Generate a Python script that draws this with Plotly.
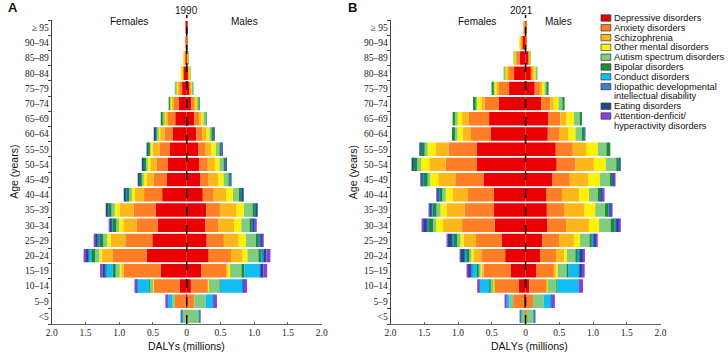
import plotly.graph_objects as go

ages = ["<5", "5–9", "10–14", "15–19", "20–24", "25–29", "30–34", "35–39", "40–44", "45–49",
        "50–54", "55–59", "60–64", "65–69", "70–74", "75–79", "80–84", "85–89", "90–94", "≥ 95"]

series_names = ["Depressive disorders", "Anxiety disorders", "Schizophrenia", "Other mental disorders",
                "Autism spectrum disorders", "Bipolar disorders", "Conduct disorders",
                "Idiopathic developmental intellectual disability", "Eating disorders",
                "Attention-denficit/hyperactivity disorders"]
colors = ["#EA0000", "#FF7F27", "#FFB81C", "#FFF200", "#80CC80", "#1F8A35",
          "#12BDF2", "#3A7EC8", "#1B4B8A", "#8A3EDB"]

# ---- 1990 Females (DALYs, millions), ages <5 ... >=95
dep_f90 = [0, 0.01, 0.106, 0.384, 0.594, 0.51, 0.428, 0.462, 0.364, 0.292, 0.278, 0.248, 0.204, 0.17, 0.116, 0.068, 0.048, 0.024, 0.01, 0.004]
anx_f90 = [0.006, 0.166, 0.39, 0.55, 0.5, 0.4, 0.312, 0.322, 0.268, 0.194, 0.164, 0.156, 0.122, 0.108, 0.084, 0.048, 0.016, 0.006, 0.002, 0]
sch_f90 = [0, 0, 0, 0.04, 0.166, 0.218, 0.2, 0.208, 0.136, 0.108, 0.098, 0.102, 0.068, 0.044, 0.028, 0.02, 0.008, 0.002, 0, 0]
oth_f90 = [0, 0, 0.004, 0.018, 0.034, 0.05, 0.062, 0.074, 0.044, 0.054, 0.04, 0.03, 0.03, 0.018, 0.016, 0.014, 0.006, 0.002, 0, 0]
aut_f90 = [0.066, 0.042, 0.054, 0.06, 0.064, 0.058, 0.04, 0.048, 0.04, 0.028, 0.024, 0.018, 0.024, 0.02, 0.01, 0.02, 0, 0, 0, 0]
bip_f90 = [0, 0, 0.004, 0.042, 0.062, 0.058, 0.058, 0.05, 0.048, 0.024, 0.034, 0.026, 0.02, 0.014, 0.004, 0, 0, 0, 0, 0]
con_f90 = [0, 0.064, 0.182, 0.104, 0.02, 0.008, 0.004, 0.002, 0.002, 0, 0, 0, 0, 0, 0, 0, 0, 0, 0, 0]
idi_f90 = [0.02, 0.01, 0.004, 0.014, 0.02, 0.016, 0.01, 0.008, 0.008, 0.006, 0.006, 0.004, 0.004, 0, 0, 0, 0, 0, 0, 0]
eat_f90 = [0, 0, 0.004, 0.038, 0.044, 0.04, 0.03, 0.024, 0.02, 0.01, 0.008, 0.004, 0.004, 0, 0, 0, 0, 0, 0, 0]
adh_f90 = [0, 0.024, 0.026, 0.034, 0.024, 0.014, 0.004, 0, 0, 0, 0, 0, 0, 0, 0, 0, 0, 0, 0, 0]

# ---- 1990 Males
dep_m90 = [0, 0.006, 0.062, 0.218, 0.326, 0.296, 0.272, 0.288, 0.238, 0.204, 0.184, 0.17, 0.142, 0.112, 0.068, 0.034, 0.024, 0.01, 0.008, 0.004]
anx_m90 = [0.008, 0.106, 0.264, 0.366, 0.33, 0.254, 0.2, 0.204, 0.162, 0.122, 0.128, 0.112, 0.086, 0.072, 0.048, 0.03, 0.014, 0.008, 0.002, 0]
sch_m90 = [0, 0, 0, 0.034, 0.172, 0.22, 0.234, 0.248, 0.184, 0.146, 0.106, 0.082, 0.068, 0.03, 0.026, 0.01, 0.006, 0.002, 0, 0]
oth_m90 = [0, 0, 0.002, 0.024, 0.072, 0.106, 0.102, 0.106, 0.102, 0.074, 0.068, 0.068, 0.04, 0.034, 0.018, 0.014, 0.006, 0.002, 0, 0]
aut_m90 = [0.172, 0.166, 0.164, 0.186, 0.162, 0.15, 0.122, 0.128, 0.088, 0.082, 0.064, 0.064, 0.048, 0.034, 0.024, 0.014, 0.004, 0.002, 0, 0]
bip_m90 = [0, 0, 0.004, 0.028, 0.048, 0.044, 0.038, 0.044, 0.038, 0.02, 0.024, 0.02, 0.02, 0.014, 0.006, 0, 0, 0, 0, 0]
con_m90 = [0, 0.12, 0.34, 0.234, 0.012, 0.006, 0.004, 0.002, 0, 0, 0, 0, 0, 0, 0, 0, 0, 0, 0, 0]
idi_m90 = [0.014, 0.006, 0.004, 0.02, 0.016, 0.014, 0.01, 0.008, 0.008, 0.008, 0.008, 0.006, 0.006, 0, 0, 0, 0, 0, 0, 0]
eat_m90 = [0, 0, 0.004, 0.024, 0.044, 0.03, 0.026, 0.018, 0.012, 0, 0.006, 0, 0, 0, 0, 0, 0, 0, 0, 0]
adh_m90 = [0, 0.044, 0.05, 0.058, 0.058, 0.022, 0.018, 0, 0, 0, 0, 0.004, 0.004, 0, 0, 0, 0, 0, 0, 0]

# ---- 2021 Females
dep_f21 = [0, 0.024, 0.098, 0.224, 0.302, 0.35, 0.458, 0.472, 0.472, 0.622, 0.726, 0.72, 0.52, 0.54, 0.394, 0.244, 0.17, 0.088, 0.048, 0.014]
anx_f21 = [0.004, 0.16, 0.374, 0.398, 0.354, 0.384, 0.482, 0.428, 0.38, 0.42, 0.456, 0.418, 0.288, 0.306, 0.21, 0.15, 0.092, 0.054, 0.02, 0.004]
sch_f21 = [0, 0, 0, 0.03, 0.118, 0.18, 0.282, 0.272, 0.228, 0.252, 0.244, 0.196, 0.122, 0.094, 0.052, 0.04, 0.026, 0.016, 0.006, 0.002]
oth_f21 = [0, 0, 0.004, 0.014, 0.028, 0.05, 0.102, 0.088, 0.102, 0.118, 0.122, 0.116, 0.078, 0.078, 0.06, 0.028, 0.014, 0.008, 0.004, 0]
aut_f21 = [0.06, 0.054, 0.054, 0.04, 0.034, 0.048, 0.048, 0.058, 0.05, 0.038, 0.058, 0.044, 0.038, 0.028, 0.038, 0.02, 0.01, 0.01, 0, 0]
bip_f21 = [0, 0, 0.004, 0.014, 0.05, 0.058, 0.074, 0.06, 0.048, 0.074, 0.058, 0.058, 0.044, 0.034, 0.024, 0.01, 0, 0, 0, 0]
con_f21 = [0, 0.044, 0.152, 0.074, 0.008, 0.006, 0.004, 0.002, 0.002, 0.002, 0, 0, 0, 0, 0, 0, 0, 0, 0, 0]
idi_f21 = [0.014, 0.006, 0.004, 0.016, 0.012, 0.014, 0.012, 0.01, 0.008, 0.008, 0.006, 0.004, 0, 0, 0, 0, 0, 0, 0, 0]
eat_f21 = [0, 0, 0, 0.046, 0.06, 0.068, 0.056, 0.036, 0.018, 0.016, 0.008, 0.004, 0, 0, 0, 0, 0, 0, 0, 0]
adh_f21 = [0, 0.018, 0.026, 0.01, 0.008, 0.006, 0.01, 0.01, 0.008, 0.004, 0, 0, 0, 0, 0, 0, 0, 0, 0, 0]

# ---- 2021 Males
dep_m21 = [0, 0.014, 0.054, 0.156, 0.218, 0.248, 0.326, 0.316, 0.312, 0.4, 0.462, 0.448, 0.33, 0.34, 0.234, 0.136, 0.082, 0.048, 0.008, 0.008]
anx_m21 = [0.02, 0.098, 0.272, 0.272, 0.234, 0.248, 0.282, 0.254, 0.228, 0.256, 0.278, 0.252, 0.176, 0.176, 0.13, 0.082, 0.026, 0.01, 0.002, 0]
sch_m21 = [0, 0, 0, 0.024, 0.122, 0.22, 0.332, 0.306, 0.258, 0.278, 0.272, 0.206, 0.132, 0.092, 0.054, 0.026, 0.02, 0.006, 0, 0]
oth_m21 = [0, 0, 0.002, 0.024, 0.04, 0.092, 0.15, 0.156, 0.142, 0.166, 0.176, 0.164, 0.102, 0.108, 0.068, 0.038, 0.022, 0.004, 0, 0]
aut_m21 = [0.106, 0.156, 0.14, 0.132, 0.14, 0.14, 0.17, 0.146, 0.13, 0.15, 0.156, 0.128, 0.096, 0.086, 0.068, 0.034, 0.026, 0.004, 0, 0]
bip_m21 = [0, 0, 0.004, 0.024, 0.024, 0.044, 0.064, 0.054, 0.044, 0.044, 0.048, 0.058, 0.036, 0.034, 0.02, 0.014, 0, 0, 0, 0]
con_m21 = [0, 0.116, 0.316, 0.162, 0.012, 0.006, 0.004, 0.002, 0.002, 0, 0, 0, 0, 0, 0, 0, 0, 0, 0, 0]
idi_m21 = [0.016, 0.006, 0.004, 0.01, 0.012, 0.012, 0.014, 0.012, 0.01, 0.008, 0.008, 0, 0.008, 0, 0, 0, 0, 0, 0, 0]
eat_m21 = [0, 0, 0, 0.032, 0.05, 0.036, 0.044, 0.028, 0.018, 0.01, 0.006, 0, 0, 0, 0, 0, 0, 0, 0, 0]
adh_m21 = [0, 0.044, 0.06, 0.04, 0.028, 0.024, 0.026, 0.016, 0.014, 0.012, 0, 0, 0, 0, 0, 0, 0, 0, 0, 0]

x_tickvals = [-2, -1.5, -1, -0.5, 0, 0.5, 1, 1.5, 2]
x_ticktext = ["2.0", "1.5", "1.0", "0.5", "0", "0.5", "1.0", "1.5", "2.0"]

females_1990 = [dep_f90, anx_f90, sch_f90, oth_f90, aut_f90, bip_f90, con_f90, idi_f90, eat_f90, adh_f90]
males_1990 = [dep_m90, anx_m90, sch_m90, oth_m90, aut_m90, bip_m90, con_m90, idi_m90, eat_m90, adh_m90]
females_2021 = [dep_f21, anx_f21, sch_f21, oth_f21, aut_f21, bip_f21, con_f21, idi_f21, eat_f21, adh_f21]
males_2021 = [dep_m21, anx_m21, sch_m21, oth_m21, aut_m21, bip_m21, con_m21, idi_m21, eat_m21, adh_m21]

W, H = 728, 353
def px(x):
    return x / W
def py(y):
    return 1 - y / H

fig = go.Figure()
panels = [("x", "y", females_1990, males_1990), ("x2", "y2", females_2021, males_2021)]
for xa, ya, fem, mal in panels:
    for i in range(len(series_names)):
        fig.add_trace(go.Bar(y=ages, x=[-v for v in fem[i]], orientation="h",
                             marker=dict(color=colors[i], line=dict(width=0)),
                             name=series_names[i], showlegend=False, xaxis=xa, yaxis=ya))
        fig.add_trace(go.Bar(y=ages, x=mal[i], orientation="h",
                             marker=dict(color=colors[i], line=dict(width=0)),
                             name=series_names[i], showlegend=False, xaxis=xa, yaxis=ya))

tickfont = dict(family="Liberation Serif", size=9.5, color="#222")
ydom = [py(324), py(20)]
xaxis_common = dict(range=[-2, 2], tickvals=x_tickvals, ticktext=x_ticktext, tickfont=tickfont,
                    showline=True, linecolor="#666", linewidth=1, ticks="inside", ticklen=2,
                    tickcolor="#666", showgrid=False, zeroline=False, fixedrange=True)
yaxis_common = dict(type="category", categoryorder="array", categoryarray=ages, range=[-0.5, 19.5],
                    tickfont=tickfont, showline=True, linecolor="#444", linewidth=1,
                    ticks="outside", ticklen=3, tickcolor="#444", tickson="boundaries",
                    showgrid=False, zeroline=False, domain=ydom, fixedrange=True)

fig.update_layout(
    width=W, height=H, margin=dict(l=0, r=0, t=0, b=0),
    plot_bgcolor="white", paper_bgcolor="white",
    barmode="relative", bargap=0.12,
    xaxis=dict(domain=[px(46.5), px(321)], anchor="y", **xaxis_common),
    yaxis=dict(anchor="x", **yaxis_common),
    xaxis2=dict(domain=[px(391), px(665.5)], anchor="y2", **xaxis_common),
    yaxis2=dict(anchor="x2", **yaxis_common),
    font=dict(family="Liberation Sans", color="#222"),
)

shapes = []
for xa in ["x", "x2"]:
    shapes.append(dict(type="line", xref=xa, yref="paper", x0=0, x1=0, y0=py(324), y1=py(15),
                       line=dict(color="black", width=1.5, dash="dash"), layer="above"))

ann = []
sans = "Liberation Sans"
def text(t, x, y, size=10, bold=False, xanchor="center", angle=0, family=sans):
    ann.append(dict(text=("<b>%s</b>" % t) if bold else t, x=px(x), y=py(y), xref="paper", yref="paper",
                    showarrow=False, xanchor=xanchor, yanchor="middle", textangle=angle,
                    font=dict(family=family, size=size, color="#111")))

text("A", 0, 8, size=13, bold=True, xanchor="left")
text("B", 346, 8, size=13, bold=True, xanchor="left")
text("1990", 184, 10)
text("2021", 524, 10)
text("Females", 125, 22)
text("Males", 242, 22)
text("Females", 479, 22)
text("Males", 561.5, 22)
text("Age (years)", 8, 172, size=10.5, angle=-90)
text("Age (years)", 353, 172, size=10.5, angle=-90)
text("DALYs (millions)", 183.5, 345.5, size=10.5)
text("DALYs (millions)", 532, 345.5, size=10.5)

legend_lines = [["Depressive disorders"], ["Anxiety disorders"], ["Schizophrenia"],
                ["Other mental disorders"], ["Autism spectrum disorders"], ["Bipolar disorders"],
                ["Conduct disorders"], ["Idiopathic developmental", "intellectual disability"],
                ["Eating disorders"], ["Attention-denficit/", "hyperactivity disorders"]]
row_y = 18.0
for i, lines in enumerate(legend_lines):
    shapes.append(dict(type="rect", xref="paper", yref="paper", x0=px(605), x1=px(615),
                       y0=py(row_y + 3.2), y1=py(row_y - 3.2), fillcolor=colors[i],
                       line=dict(color="#333", width=0.7)))
    for j, ln in enumerate(lines):
        text(ln, 616.5, row_y + j * 9.7, size=9.3, xanchor="left")
    row_y += 9.8 * len(lines)

fig.update_layout(shapes=shapes, annotations=ann)
fig.write_html("out.html", config={"displayModeBar": False},
               post_script="document.body.style.margin='0';")
